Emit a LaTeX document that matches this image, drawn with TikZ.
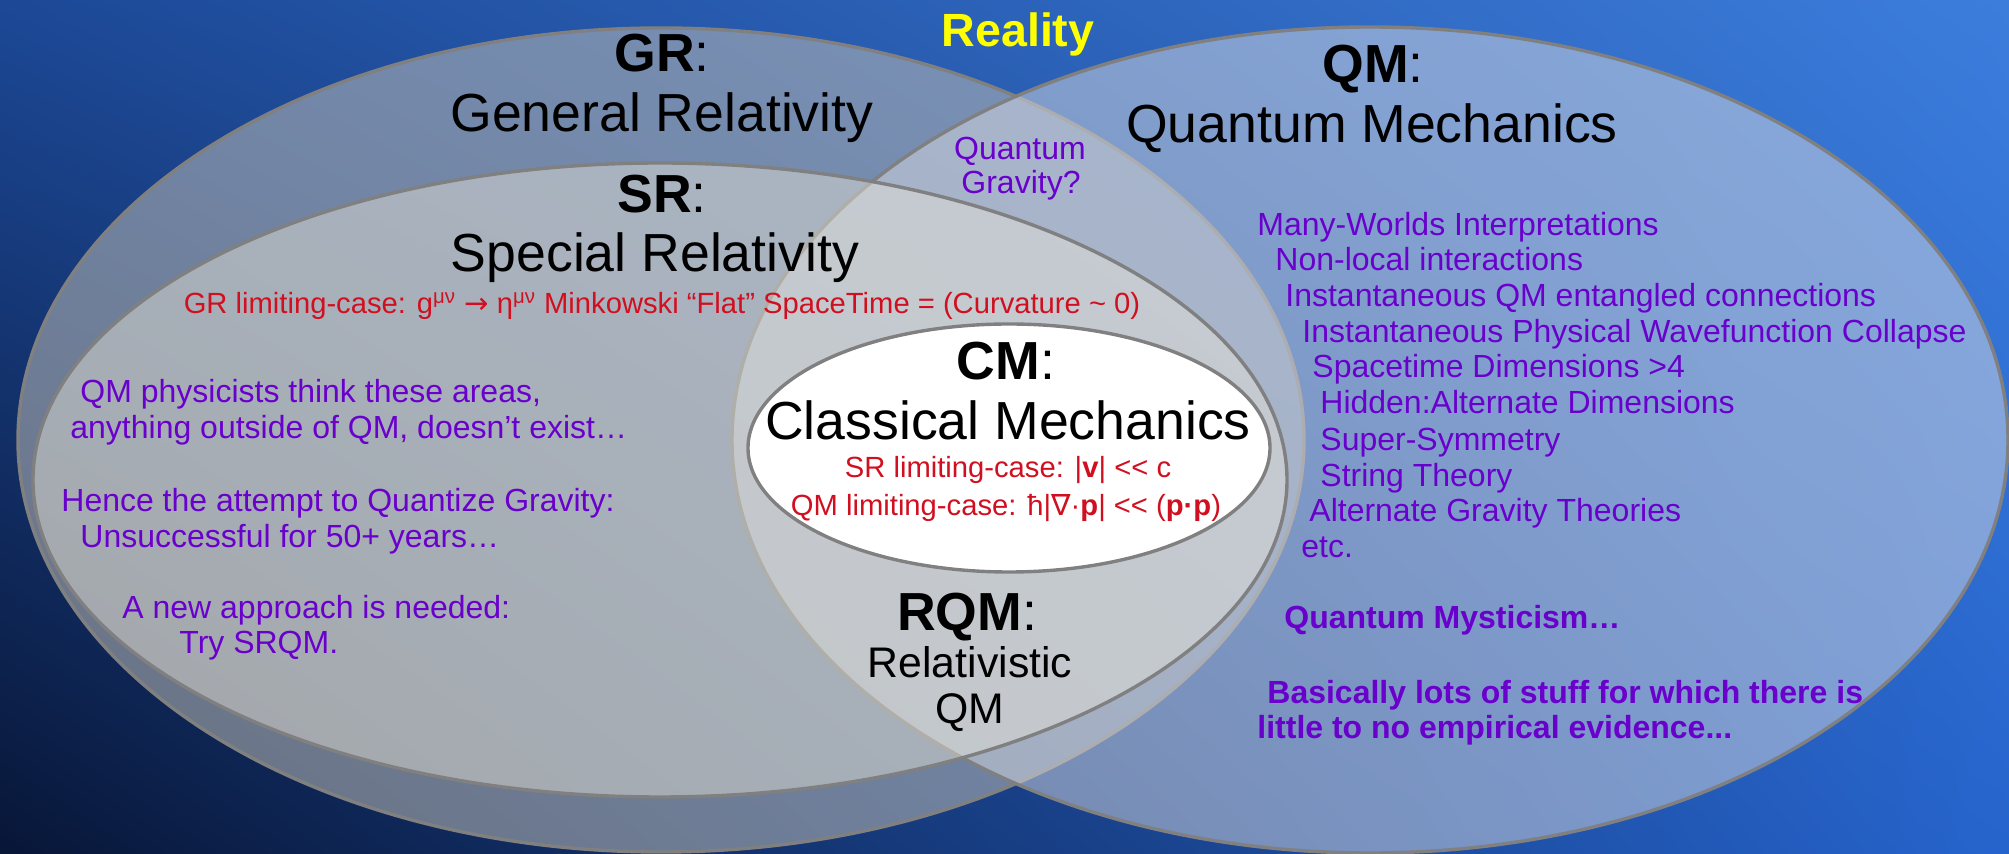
\documentclass[tikz,border=0pt]{standalone}
\usepackage{fontspec}
\usetikzlibrary{shadings}
\setmainfont{Liberation Sans}
\newfontfamily\dejavu{DejaVu Sans}
\definecolor{bgUL}{RGB}{28,72,150}
\definecolor{bgUR}{RGB}{60,125,220}
\definecolor{bgLL}{RGB}{8,22,55}
\definecolor{bgLR}{RGB}{38,100,205}
\definecolor{edge}{RGB}{128,128,128}
\definecolor{grfill}{RGB}{185,185,182}
\definecolor{qmfill}{RGB}{215,218,226}
\definecolor{srfill}{RGB}{235,232,218}
\definecolor{purp}{RGB}{106,0,204}
\definecolor{redt}{RGB}{208,16,32}
\definecolor{realyellow}{RGB}{255,255,0}
\begin{document}
\begin{tikzpicture}[x=0.5pt,y=-0.5pt,
  setregion/.style={draw=edge, line width=1.7pt},
  bigtitle/.style={font=\fontsize{26.8}{30}\selectfont, anchor=base, inner sep=0pt, text=black},
  redline/.style={font=\fontsize{14.6}{17}\selectfont, anchor=base, inner sep=0pt, text=redt},
  purpline/.style={font=\fontsize{16}{19}\selectfont, anchor=base west, inner sep=0pt, text=purp},
  purpmid/.style={font=\fontsize{16}{19}\selectfont, anchor=base, inner sep=0pt, text=purp}]
% background
\shade[upper left=bgUL, upper right=bgUR, lower left=bgLL, lower right=bgLR] (0,0) rectangle (2009,854);
\useasboundingbox (0,0) rectangle (2009,854);
% sets
\path[setregion, fill=grfill, fill opacity=0.55] (661,440) ellipse [x radius=643, y radius=412];
\path[setregion, fill=qmfill, fill opacity=0.5] (1370,440) ellipse [x radius=638, y radius=413];
\path[setregion, fill=srfill, fill opacity=0.45] (660,480) ellipse [x radius=627, y radius=317];
\path[setregion, fill=white] (1009,448) ellipse [x radius=261, y radius=124];
% titles
\node[font=\fontsize{23.3}{27}\selectfont\bfseries, text=realyellow, anchor=base, inner sep=0pt] (reality) at (1018,47) {Reality};
\node[bigtitle] (grhead) at (662,72) {\textbf{GR}:};
\node[bigtitle] (grname) at (662,132) {General Relativity};
\node[bigtitle] (srhead) at (662,213) {\textbf{SR}:};
\node[bigtitle] (srname) at (655,272) {Special Relativity};
\node[redline, font=\fontsize{14.6}{17}\selectfont] (grlimit) at (662,314) {GR limiting-case: g\textsuperscript{μν} {\dejavu →} η\textsuperscript{μν} Minkowski “Flat” SpaceTime = (Curvature \textasciitilde{} 0)};
\node[bigtitle] (qmhead) at (1373,83) {\textbf{QM}:};
\node[bigtitle] (qmname) at (1372,143) {Quantum Mechanics};
\node[bigtitle] (cmhead) at (1006,380) {\textbf{CM}:};
\node[bigtitle] (cmname) at (1008,440) {Classical Mechanics};
\node[redline] (srlimit) at (1008,478) {SR limiting-case: |\textbf{v}| <\kern0pt< c};
\node[redline] (qmlimit) at (1006,516) {QM limiting-case: ħ|{\dejavu ∇}·\textbf{p}| <\kern0pt< (\textbf{p·p})};
\node[bigtitle] (rqmhead) at (967,631) {\textbf{RQM}:};
\node[bigtitle, font=\fontsize{21.4}{24}\selectfont] (rqmname1) at (970,678) {Relativistic};
\node[bigtitle, font=\fontsize{21.4}{24}\selectfont] (rqmname2) at (970,724) {QM};
\node[purpmid] (qg1) at (1020,160) {Quantum};
\node[purpmid] (qg2) at (1021,194) {Gravity?};
% left texts
\node[purpline] (l1) at (80,403) {QM physicists think these areas,};
\node[purpline] (l2) at (70,439) {anything outside of QM, doesn’t exist…};
\node[purpline] (l3) at (61,512) {Hence the attempt to Quantize Gravity:};
\node[purpline] (l4) at (80,548) {Unsuccessful for 50+ years…};
\node[purpline] (l5) at (122,619) {A new approach is needed:};
\node[purpline] (l6) at (179,654) {Try SRQM.};
% right list
\node[purpline] (r1) at (1257,236) {Many-Worlds Interpretations};
\node[purpline] (r2) at (1275,271) {Non-local interactions};
\node[purpline] (r3) at (1285,307) {Instantaneous QM entangled connections};
\node[purpline] (r4) at (1302,343) {Instantaneous Physical Wavefunction Collapse};
\node[purpline] (r5) at (1312,378) {Spacetime Dimensions >4};
\node[purpline] (r6) at (1320,414) {Hidden:Alternate Dimensions};
\node[purpline] (r7) at (1320,451) {Super-Symmetry};
\node[purpline] (r8) at (1320,487) {String Theory};
\node[purpline] (r9) at (1309,522) {Alternate Gravity Theories};
\node[purpline] (r10) at (1301,558) {etc.};
\node[purpline, font=\fontsize{16}{19}\selectfont\bfseries] (r11) at (1284,629) {Quantum Mysticism…};
\node[purpline, font=\fontsize{16}{19}\selectfont\bfseries] (r12) at (1267,704) {Basically lots of stuff for which there is};
\node[purpline, font=\fontsize{16}{19}\selectfont\bfseries] (r13) at (1257,739) {little to no empirical evidence...};
\end{tikzpicture}
\end{document}
